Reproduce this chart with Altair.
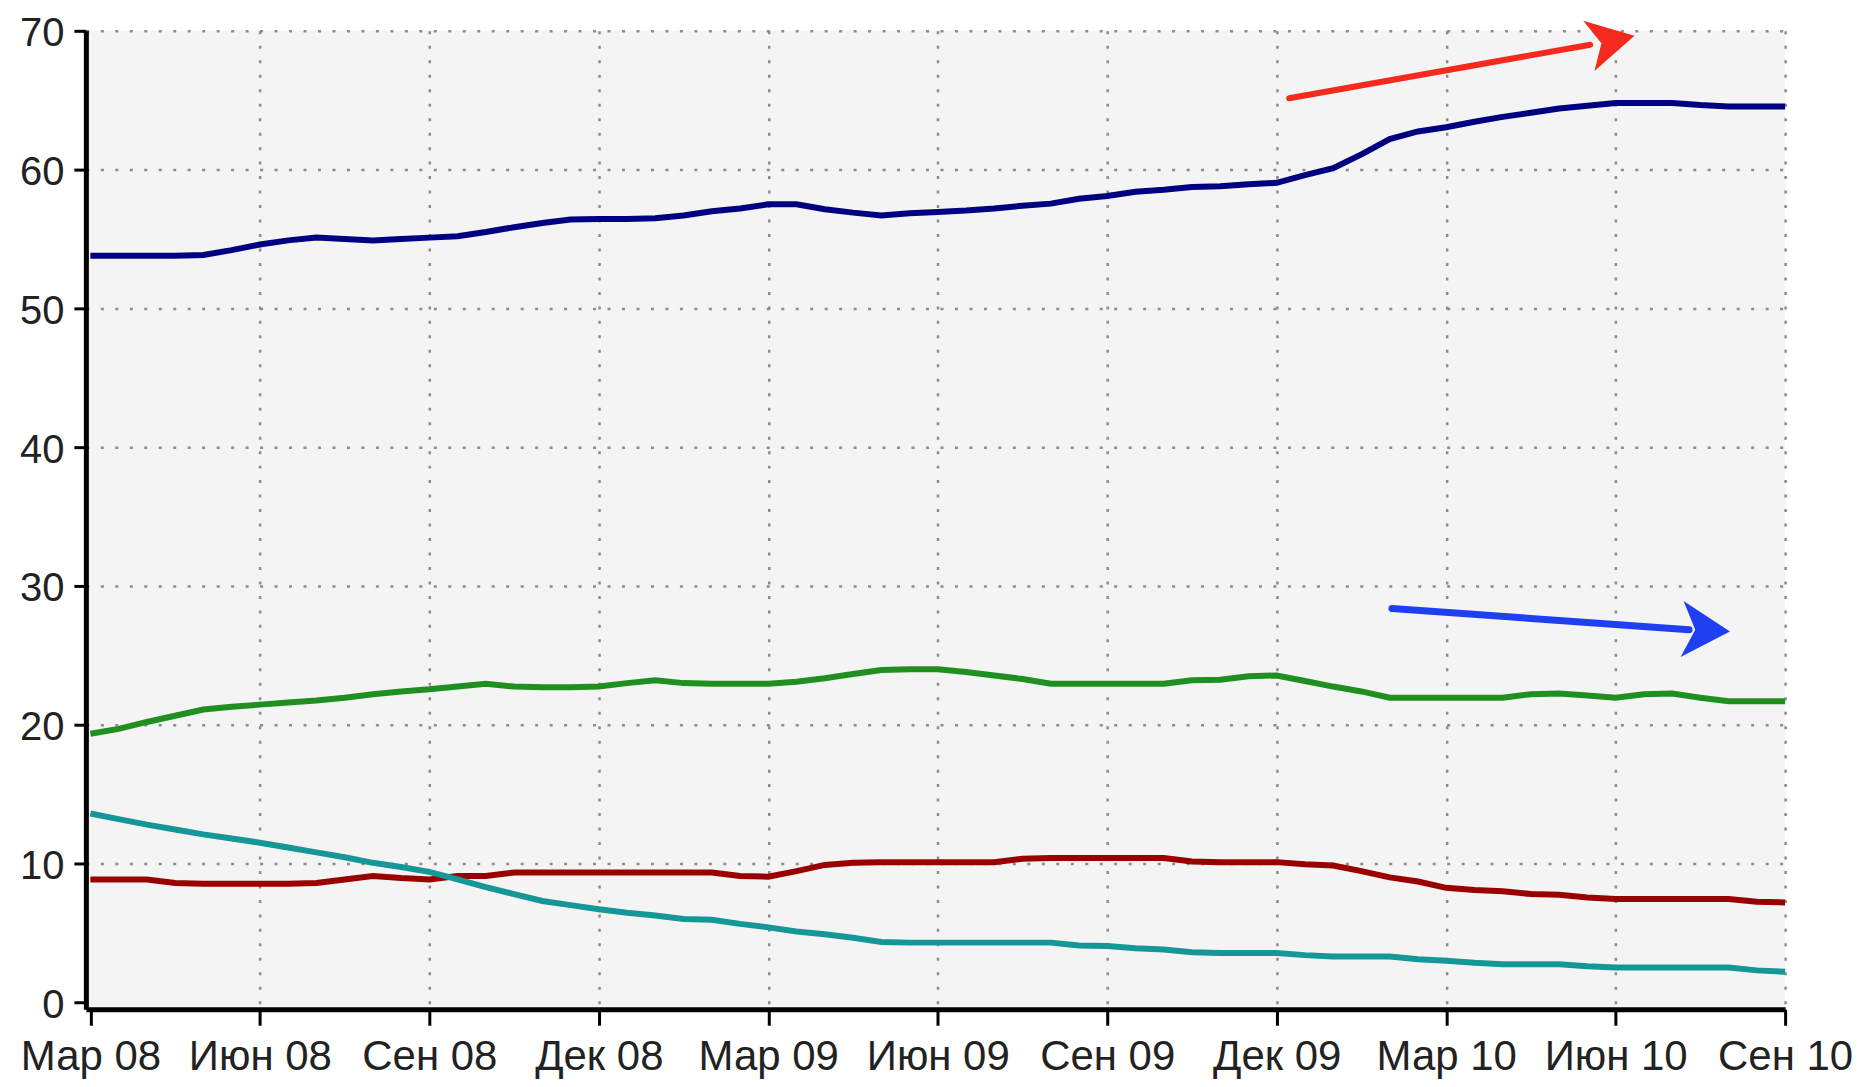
import altair as alt
import pandas as pd

# x position: month index from March 2008 (0) to September 2010 (30), half-month steps
months = [i / 2 for i in range(61)]

yandex = [53.8, 53.8, 53.8, 53.8, 53.85, 54.2, 54.6, 54.9, 55.1, 55.0,
          54.9, 55.0, 55.1, 55.2, 55.5, 55.85, 56.15, 56.4, 56.45, 56.45,
          56.5, 56.7, 57.0, 57.2, 57.5, 57.5, 57.15, 56.9, 56.7, 56.85,
          56.95, 57.05, 57.2, 57.4, 57.55, 57.9, 58.1, 58.4, 58.55, 58.75,
          58.8, 58.95, 59.05, 59.6, 60.1, 61.1, 62.2, 62.75, 63.05, 63.45,
          63.8, 64.1, 64.4, 64.6, 64.8, 64.8, 64.8, 64.65, 64.55, 64.55,
          64.55]
google = [19.35, 19.7, 20.2, 20.65, 21.1, 21.3, 21.45, 21.6, 21.75, 21.95,
          22.2, 22.4, 22.55, 22.75, 22.95, 22.75, 22.7, 22.7, 22.75, 23.0,
          23.2, 23.0, 22.95, 22.95, 22.95, 23.1, 23.35, 23.65, 23.95, 24.0,
          24.0, 23.8, 23.55, 23.3, 22.95, 22.95, 22.95, 22.95, 22.95, 23.2,
          23.25, 23.5, 23.55, 23.15, 22.75, 22.4, 21.95, 21.95, 21.95, 21.95,
          21.95, 22.2, 22.25, 22.1, 21.95, 22.2, 22.25, 21.95, 21.7, 21.7,
          21.7]
mailru = [8.85, 8.85, 8.85, 8.6, 8.55, 8.55, 8.55, 8.55, 8.6, 8.85,
          9.1, 8.95, 8.85, 9.1, 9.1, 9.35, 9.35, 9.35, 9.35, 9.35,
          9.35, 9.35, 9.35, 9.1, 9.05, 9.45, 9.9, 10.05, 10.1, 10.1,
          10.1, 10.1, 10.1, 10.35, 10.4, 10.4, 10.4, 10.4, 10.4, 10.15,
          10.1, 10.1, 10.1, 9.95, 9.85, 9.45, 9.0, 8.7, 8.25, 8.1,
          8.0, 7.8, 7.75, 7.55, 7.45, 7.45, 7.45, 7.45, 7.45, 7.25,
          7.2]
rambler = [13.6, 13.2, 12.8, 12.45, 12.1, 11.8, 11.5, 11.15, 10.8, 10.45,
           10.05, 9.75, 9.4, 8.85, 8.3, 7.8, 7.3, 7.0, 6.7, 6.45,
           6.25, 6.0, 5.95, 5.65, 5.4, 5.1, 4.9, 4.65, 4.35, 4.3,
           4.3, 4.3, 4.3, 4.3, 4.3, 4.1, 4.05, 3.9, 3.8, 3.6,
           3.55, 3.55, 3.55, 3.4, 3.3, 3.3, 3.3, 3.1, 3.0, 2.85,
           2.75, 2.75, 2.75, 2.6, 2.5, 2.5, 2.5, 2.5, 2.5, 2.3,
           2.2]

series_names = ["Яндекс", "Google", "Mail.ru", "Рамблер"]
series_colors = ["#000080", "#1f8f1f", "#990000", "#169797"]

tick_values = [0, 3, 6, 9, 12, 15, 18, 21, 24, 27, 30]
tick_labels = ["Мар 08", "Июн 08", "Сен 08", "Дек 08", "Мар 09", "Июн 09",
               "Сен 09", "Дек 09", "Мар 10", "Июн 10", "Сен 10"]
y_ticks = [0, 10, 20, 30, 40, 50, 60, 70]

# hand-drawn trend arrows (annotation): shaft start / head base, head centre
red_arrow_month = [21.22, 26.55]
red_arrow_value = [65.14, 69.0]
red_head = (26.93, 69.28)
blue_arrow_month = [23.04, 28.3]
blue_arrow_value = [28.38, 26.85]
blue_head = (28.6, 26.8)

rows = []
for name, vals in zip(series_names, [yandex, google, mailru, rambler]):
    for m, v in zip(months, vals):
        rows.append({"series": name, "month": m, "value": v})
df = pd.DataFrame(rows)

label_expr = "[" + ",".join("'%s'" % t for t in tick_labels) + "][round(datum.value / 3)]"

x_scale = alt.Scale(domain=[-0.08, 30], nice=False, zero=False)
y_scale = alt.Scale(domain=[-0.5, 70], nice=False, zero=False)

hide_zero = alt.condition("datum.value === 0", alt.value(0), alt.value(1))

lines = alt.Chart(df).mark_line(strokeWidth=6).encode(
    x=alt.X("month:Q", scale=x_scale, title=None,
            axis=alt.Axis(values=tick_values, labelExpr=label_expr, gridOpacity=hide_zero)),
    y=alt.Y("value:Q", scale=y_scale, title=None,
            axis=alt.Axis(values=y_ticks, gridOpacity=hide_zero)),
    color=alt.Color("series:N", scale=alt.Scale(domain=series_names, range=series_colors), legend=None),
)

def shaft(ms, vs, color, w):
    d = pd.DataFrame({"month": ms, "value": vs})
    return alt.Chart(d).mark_line(color=color, strokeWidth=w, strokeCap="round").encode(
        x=alt.X("month:Q", title=None), y=alt.Y("value:Q", title=None))

def head(pos, color, size, angle, halfw):
    d = pd.DataFrame({"month": [pos[0]], "value": [pos[1]]})
    path = "M1,0L-1,-%sL-0.45,0L-1,%sZ" % (halfw, halfw)
    return alt.Chart(d).mark_point(shape=path, filled=True, size=size, angle=angle,
                                   color=color, opacity=1, strokeWidth=0).encode(
        x=alt.X("month:Q", title=None), y=alt.Y("value:Q", title=None))

red_col = "#f42a1e"
blue_col = "#1f40f0"

chart = alt.layer(
    lines,
    shaft(red_arrow_month, red_arrow_value, red_col, 6),
    head(red_head, red_col, 2200, 347.3, 1.1),
    shaft(blue_arrow_month, blue_arrow_value, blue_col, 7),
    head(blue_head, blue_col, 2304, 3, 1.17),
).properties(
    width=1702, height=980,
    padding={"left": 78, "top": 22, "right": 70, "bottom": 69},
    autosize="none",
    background="white",
).configure_view(
    fill="#f4f4f4", stroke=None
).configure_axis(
    domainColor="black", domainWidth=5, tickColor="black", tickWidth=3,
    labelFont="Liberation Sans", labelFontSize=42, labelColor="#222222",
    gridColor="#8c8c8c", gridDash=[3, 11.5], gridWidth=2.5,
    labelFlush=False, labelOverlap=False,
).configure_axisX(
    tickSize=16, labelPadding=44, labelBaseline="alphabetic",
).configure_axisY(
    tickSize=12, labelPadding=10, labelFontSize=40,
    labelBaseline="alphabetic", labelOffset=15,
)

chart.save("out.html", embed_options={"renderer": "svg", "actions": False})
